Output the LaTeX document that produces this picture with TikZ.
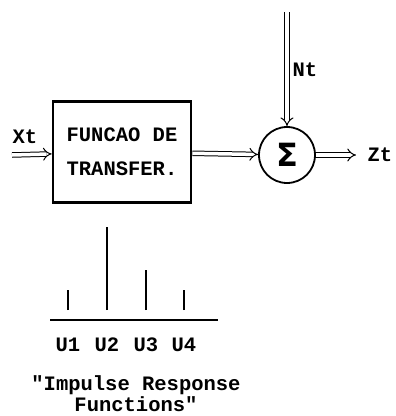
\documentclass[tikz,border=0pt]{standalone}
\usepackage{fontspec}
\setmonofont{Liberation Mono}
\newfontfamily\sigmafont{DejaVu Sans}
\usetikzlibrary{arrows.meta,positioning}

\begin{document}
\begin{tikzpicture}[x=1pt,y=-1pt,font=\ttfamily\bfseries\fontsize{20.5}{24}\selectfont,
    sig/.style={double,double distance=3.5pt,line width=1pt,-{Implies[scale=1.6]}},
    block/.style={draw,line width=2.6pt,minimum width=138pt,minimum height=101pt,align=left},
    adder/.style={circle,draw,line width=1.8pt,minimum size=56pt,inner sep=0pt},
    bar/.style={line width=1.6pt}]
  \useasboundingbox (0,0) rectangle (396,416);

  \node[block] (tf) at (122,152) {FUNCAO DE\\[10pt]TRANSFER.};
  \node[adder] (sum) at (287,155) {\sigmafont\bfseries\fontsize{32}{32}\selectfont Σ};
  \coordinate (xin) at (12,155);
  \coordinate (nin) at (287,12);
  \coordinate (zout) at (356,155);
  \node (xt) at (25,137) {Xt};
  \node (nt) at (305,70) {Nt};
  \node (zt) at (380,155) {Zt};

  \draw[sig] (xin) -- (tf);
  \draw[sig] (tf) -- (sum);
  \draw[sig] (nin) -- (sum);
  \draw[sig] (sum) -- (zout);

  % impulse responses
  \draw[line width=1.4pt] (50,320) -- (218,320);
  \foreach \x/\top [count=\i] in {68/290,107/227,146/270,184/290} {
    \draw[bar] (\x,310) -- (\x,\top);
    \node (u\i) at (\x,345) {U\i};
  }
  \node[align=center,font=\ttfamily\bfseries\fontsize{20.5}{21}\selectfont] (cap) at (136,394)
    {"Impulse Response\\Functions"};
\end{tikzpicture}
\end{document}
